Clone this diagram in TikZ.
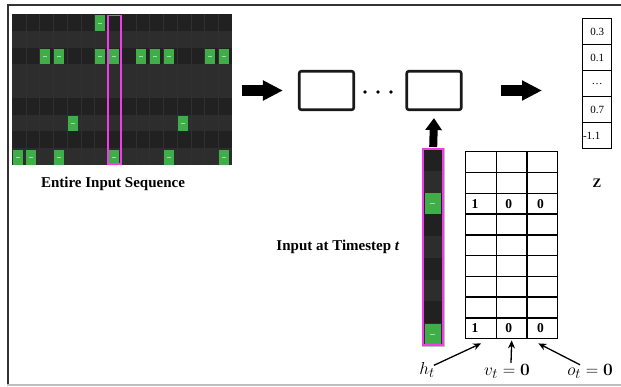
\documentclass[tikz,border=0pt]{standalone}
\usepackage[no-math]{fontspec}
\setmainfont{Liberation Serif}
\usetikzlibrary{arrows.meta,shadows}
\definecolor{rolldark}{HTML}{212121}
\definecolor{rolllight}{HTML}{2D2D2D}
\definecolor{rollline}{HTML}{303030}
\definecolor{notegreen}{HTML}{3FAE48}
\definecolor{notedash}{HTML}{A6DCA8}
\definecolor{magbox}{HTML}{F03CEA}
\definecolor{framedark}{HTML}{333333}
\definecolor{framelight}{HTML}{BDBDBD}
\tikzset{
  rnnbox/.style={draw=black!90, line width=2.6pt, rounded corners=2pt, fill=white,
    minimum width=54.5pt, minimum height=38.5pt, inner sep=0pt,
    drop shadow={opacity=0.25, shadow xshift=0.8pt, shadow yshift=-0.8pt}},
  tcell/.style={draw=black, line width=1.4pt, minimum width=30.67pt, minimum height=20.78pt,
    inner sep=0pt, anchor=north west},
  zcell/.style={draw=black, line width=1.3pt, minimum width=29pt, minimum height=26pt,
    inner sep=0pt, anchor=north west},
  fatarrow/.style={line width=10.5pt, -{Triangle[length=20pt,width=19pt]}},
  uparrow/.style={line width=8pt, -{Triangle[length=12pt,width=16pt]}},
  thinarrow/.style={line width=1.3pt, -{Stealth[length=8pt,width=7pt]}},
  dotnode/.style={circle, fill=black, inner sep=0pt, minimum size=3.6pt},
  capt/.style={font=\fontsize{15}{17}\selectfont\bfseries, inner sep=0pt},
  numtxt/.style={font=\fontsize{13.5}{15}\selectfont\bfseries, inner sep=0pt},
  ztxt/.style={font=\fontsize{11}{12}\selectfont, inner sep=0pt},
  mathlbl/.style={font=\fontsize{19}{21}\selectfont, inner sep=1pt},
}
\begin{document}
\begin{tikzpicture}[x=1pt,y=-1pt]
\useasboundingbox (0,0) rectangle (621,386);
\fill[white] (0,0) rectangle (621,386);
% frame
\draw[framedark, line width=1.6pt] (7,5.2) -- (621,5.2);
\draw[framedark, line width=2pt] (8,5.2) -- (8,385);
\draw[framelight, line width=1.4pt] (7,385) -- (621,385);

% ---------- piano roll ----------
\node[inner sep=0pt, minimum width=220pt, minimum height=151pt, anchor=north west] (roll) at (12,14) {};
\foreach \r/\shade in {0/rolldark,1/rolllight,2/rolldark,3/rolllight,4/rolllight,5/rolldark,6/rolllight,7/rolldark,8/rolllight}{
  \fill[\shade] (12,{14+\r*16.78}) rectangle (232,{14+(\r+1)*16.78});
}
\foreach \c in {1,...,6,9,10,...,15}{
  \draw[rollline, line width=0.4pt] ({12+\c*13.75},14) -- ({12+\c*13.75},165);
}
\foreach \r/\c in {0/6, 2/2,2/3,2/6,2/7,2/9,2/10,2/11,2/14,2/15, 6/4,6/12, 8/0,8/1,8/3,8/7,8/11,8/15}{
  \pgfmathsetmacro\nx{12+\c*13.75+0.6}
  \pgfmathsetmacro\ny{14+\r*16.78+1.3}
  \fill[notegreen] (\nx,\ny) rectangle ++(10,15.2);
  \draw[notedash, line width=0.8pt] ({\nx+3},{\ny+7.6}) -- ++(4,0);
}
\draw[magbox, line width=1.8pt] (107.9,15.4) rectangle (121.1,164.2);
\node[capt] (cap1) at (113,184) {Entire Input Sequence};

% ---------- single timestep column ----------
\node[inner sep=0pt, minimum width=20pt, minimum height=196pt, anchor=north west] (colin) at (423,149) {};
\foreach \r/\shade in {0/rolldark,1/rolllight,2/rolldark,3/rolldark,4/rolllight,5/rolldark,6/rolllight,7/rolldark,8/rolllight}{
  \fill[\shade] (423,{149+\r*21.78}) rectangle (443,{149+(\r+1)*21.78});
}
\foreach \r in {2,8}{
  \pgfmathsetmacro\ny{149+\r*21.78+0.8}
  \fill[notegreen] (424.6,\ny) rectangle ++(16.8,20.4);
  \draw[notedash, line width=0.9pt] (430,{\ny+10.2}) -- ++(5,0);
}
\draw[gray!50, line width=0.5pt] (421.9,147.9) rectangle (444.1,346.1);
\draw[magbox, line width=1.8pt] (423.3,149.3) rectangle (442.7,344.7);
\node[capt] (cap2) at (338,247) {Input at Timestep \textit{t}};

% ---------- RNN boxes ----------
\node[rnnbox] (box1) at (326.5,90.5) {};
\node[rnnbox] (box2) at (434,90.5) {};
\node[dotnode] (d1) at (365,92) {};
\node[dotnode] (d2) at (378,92) {};
\node[dotnode] (d3) at (391,92) {};

% ---------- Z vector ----------
\foreach \i/\v in {1/0.3,2/0.1,3/\dots,4/0.7}{
  \node[zcell] (z\i) at (582,{18+(\i-1)*26}) {};
  \node[ztxt] at (z\i.center) {\v};
}
\node[zcell] (z5) at (582,122) {};
\node[ztxt, anchor=west] at ([xshift=0.8pt]z5.west) {-1.1};
\node[font=\fontsize{13}{15}\selectfont\bfseries, inner sep=0pt] (zlbl) at (597,183) {Z};

% ---------- fat arrows ----------
\draw[fatarrow] ([xshift=10pt]roll.east |- box1.west) -- ([xshift=-15pt]box1.west);
\draw[fatarrow] ([xshift=38pt]box2.east) -- ([xshift=-40pt]z3.west |- box2.east);
\draw[uparrow] ([yshift=2pt]colin.north) -- ([yshift=-7pt]box2.south);

% ---------- table ----------
\foreach \r in {0,...,8}{
  \foreach \c in {0,1,2}{
    \node[tcell] (t-\r-\c) at ({465+\c*30.67},{151+\r*20.78}) {};
  }
}
\foreach \r in {2,8}{
  \node[numtxt] at ([xshift=-6pt]t-\r-0.center) {1};
  \node[numtxt] at ([xshift=-3pt]t-\r-1.center) {0};
  \node[numtxt] at ([xshift=-2pt]t-\r-2.center) {0};
}

% ---------- labels ----------
\node[mathlbl] (h) at (427,370) {$h_t$};
\node[mathlbl] (v) at (507,371) {$v_t=\mathbf{0}$};
\node[mathlbl] (o) at (590,371) {$o_t=\mathbf{0}$};
\draw[thinarrow] ([shift={(-2pt,-4pt)}]h.north east) -- ([yshift=-4pt]t-8-0.south);
\draw[thinarrow] ([xshift=4pt]v.north) -- ([yshift=-1pt]t-8-1.south);
\draw[thinarrow] ([shift={(-10pt,-2pt)}]o.north) -- ([shift={(-4pt,-4pt)}]t-8-2.south);
\end{tikzpicture}
\end{document}
